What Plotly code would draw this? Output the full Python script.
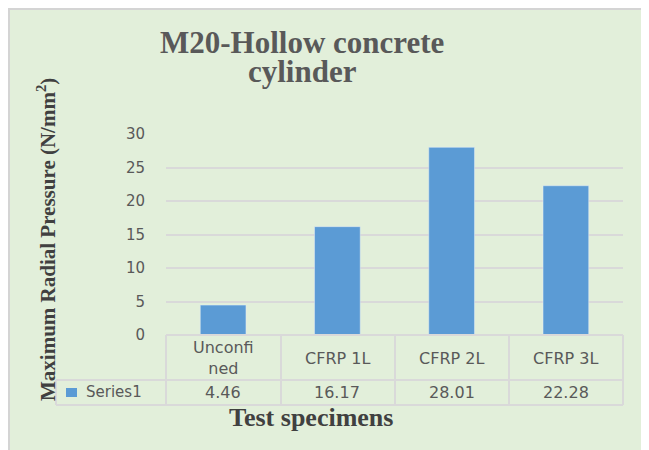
import plotly.graph_objects as go

categories = ["Unconfined", "CFRP 1L", "CFRP 2L", "CFRP 3L"]
category_labels = ["Unconfi<br>ned", "CFRP 1L", "CFRP 2L", "CFRP 3L"]
values = [4.46, 16.17, 28.01, 22.28]
value_labels = ["4.46", "16.17", "28.01", "22.28"]
series_name = "Series1"
y_ticks = [0, 5, 10, 15, 20, 25, 30]

OFF = 8  # page body margin
W, H = 649 - OFF, 450 - OFF
L, R, T, B = 166, 623, 134, 335  # plot area in reference pixels


def px(x):
    return (x - L) / (R - L)


def py(y):
    return (B - y) / (B - T)


BG = "#e2efda"
GRID = "#d9d9d9"
TXT = "#595959"
BAR = "#5b9bd5"

fig = go.Figure()
fig.add_trace(go.Bar(x=categories, y=values, marker_color=BAR, width=0.4, name=series_name))

shapes = []
# outer chart border (top/left only)
shapes.append(dict(type="line", xref="paper", yref="paper", x0=px(OFF), x1=px(700), y0=py(OFF + 1), y1=py(OFF + 1),
                   line=dict(color="#d4d4d4", width=2), layer="below"))
shapes.append(dict(type="line", xref="paper", yref="paper", x0=px(OFF + 1), x1=px(OFF + 1), y0=py(OFF), y1=py(500),
                   line=dict(color="#d4d4d4", width=2), layer="below"))


def hline(y, x0, x1):
    shapes.append(dict(type="line", xref="paper", yref="paper", x0=px(x0), x1=px(x1), y0=py(y), y1=py(y),
                       line=dict(color=GRID, width=2)))


def vline(x, y0, y1):
    shapes.append(dict(type="line", xref="paper", yref="paper", x0=px(x), x1=px(x), y0=py(y0), y1=py(y1),
                       line=dict(color=GRID, width=2)))


hline(335, 166, 623)
hline(380, 56, 623)
hline(405, 56, 623)
for xb in [166, 281, 395, 509, 623]:
    vline(xb, 335, 405)
vline(56, 380, 405)
# legend key square
shapes.append(dict(type="rect", xref="paper", yref="paper", x0=px(66), x1=px(77), y0=py(397), y1=py(388),
                   fillcolor=BAR, line=dict(width=0)))

annotations = []
for c, lab, v in zip(categories, category_labels, value_labels):
    annotations.append(dict(x=c, xref="x", y=py(358), yref="paper", text=lab, showarrow=False,
                            font=dict(family="DejaVu Sans", size=16, color=TXT), xanchor="center", yanchor="middle"))
    annotations.append(dict(x=c, xref="x", y=py(392), yref="paper", text=v, showarrow=False,
                            font=dict(family="DejaVu Sans", size=16, color=TXT), xanchor="center", yanchor="middle"))
annotations.append(dict(x=px(84), xref="paper", y=py(392), yref="paper", text=series_name, showarrow=False,
                        font=dict(family="DejaVu Sans", size=15, color=TXT), xanchor="left", yanchor="middle"))
# titles
annotations.append(dict(x=px(302), xref="paper", y=py(43), yref="paper", text="<b>M20-Hollow concrete</b>",
                        showarrow=False, font=dict(family="Liberation Serif", size=31, color=TXT),
                        xanchor="center", yanchor="middle"))
annotations.append(dict(x=px(302), xref="paper", y=py(71), yref="paper", text="<b>cylinder</b>",
                        showarrow=False, font=dict(family="Liberation Serif", size=31, color=TXT),
                        xanchor="center", yanchor="middle"))
annotations.append(dict(x=px(311), xref="paper", y=py(417), yref="paper", text="<b>Test specimens</b>",
                        showarrow=False, font=dict(family="Liberation Serif", size=26, color="#404040"),
                        xanchor="center", yanchor="middle"))
annotations.append(dict(x=px(46), xref="paper", y=py(240), yref="paper",
                        text="<b>Maximum Radial Pressure (N/mm<sup>2</sup>)</b>", textangle=-90,
                        showarrow=False, font=dict(family="Liberation Serif", size=21, color="#404040"),
                        xanchor="center", yanchor="middle"))

fig.update_layout(
    width=W, height=H,
    margin=dict(l=L - OFF, r=W - (R - OFF), t=T - OFF, b=H - (B - OFF), pad=0),
    paper_bgcolor=BG,
    plot_bgcolor="rgba(0,0,0,0)",
    showlegend=False,
    shapes=shapes,
    annotations=annotations,
    xaxis=dict(showticklabels=False, showgrid=False, zeroline=False, showline=False,
               range=[-0.5, 3.5], fixedrange=True),
    yaxis=dict(range=[0, 30], tickvals=y_ticks, showgrid=True, gridcolor=GRID, gridwidth=2,
               zeroline=False, showline=False, ticklabelstandoff=20,
               tickfont=dict(family="DejaVu Sans", size=15, color=TXT)),
)

fig.write_html("out.html",
               post_script="document.documentElement.style.overflow='hidden';document.body.style.overflow='hidden';")
